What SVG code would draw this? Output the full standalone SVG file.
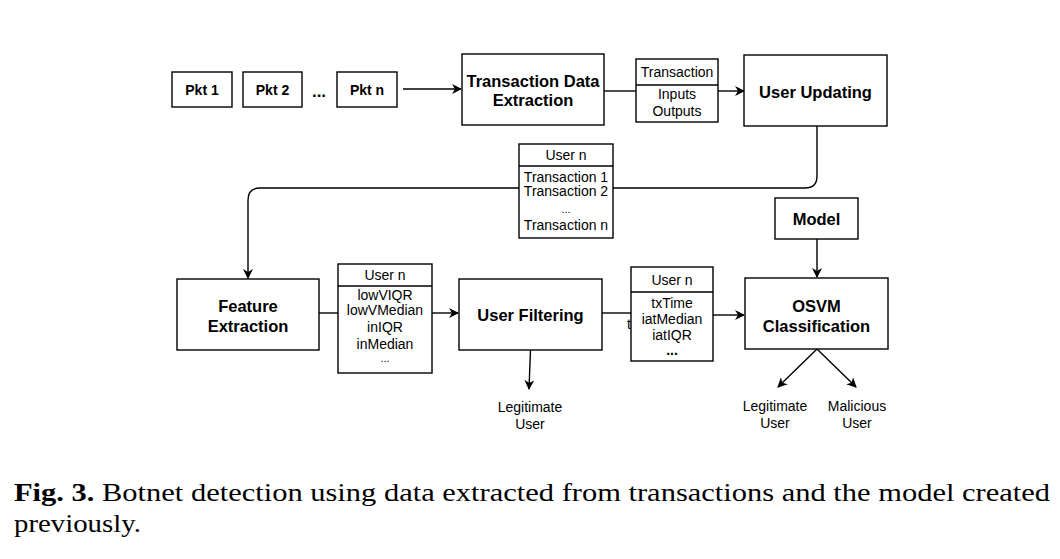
<svg xmlns="http://www.w3.org/2000/svg" width="1060" height="559" viewBox="0 0 1060 559">
<defs>
<marker id="ah" viewBox="0 0 10 10" refX="9" refY="5" markerWidth="10" markerHeight="10" markerUnits="userSpaceOnUse" orient="auto">
<path d="M0,0 L10,5 L0,10 L3,5 Z" fill="#000"/>
</marker>
<style>
.b{fill:#fff;stroke:#000;stroke-width:1.4}
.c{fill:none;stroke:#000;stroke-width:1.4}
.t{font-family:"Liberation Sans",Arial,sans-serif;text-anchor:middle;fill:#000}
.bold{font-weight:bold;font-size:16.5px}
.pk{font-weight:bold;font-size:14px}
.n{font-size:14px}
.cap{font-family:"Liberation Serif","Times New Roman",serif;font-size:25px;fill:#000}
</style>
</defs>
<rect width="1060" height="559" fill="#fff"/>
<g id="connectors">
<path class="c" d="M403,89 H461" marker-end="url(#ah)"/>
<path class="c" d="M604,91 H636"/>
<path class="c" d="M718,91 H744" marker-end="url(#ah)"/>
<path class="c" d="M817,126 V176 Q817,188 805,188 H613"/>
<path class="c" d="M519,188 H260 Q248,188 248,200 V278" marker-end="url(#ah)"/>
<path class="c" d="M319,313 H338"/>
<path class="c" d="M432,313 H458" marker-end="url(#ah)"/>
<path class="c" d="M602,313 H631"/>
<path class="c" d="M530.5,350 L529,389" marker-end="url(#ah)"/>
<path class="c" d="M713,315 H744" marker-end="url(#ah)"/>
<path class="c" d="M817,239 V277" marker-end="url(#ah)"/>
<path class="c" d="M817,349 L778,387" marker-end="url(#ah)"/>
<path class="c" d="M817,349 L856,387" marker-end="url(#ah)"/>
</g>
<g id="pkt1"><rect class="b" x="172" y="72" width="60" height="35"/><text class="t pk" x="202" y="95">Pkt 1</text></g>
<g id="pkt2"><rect class="b" x="243" y="72" width="59" height="35"/><text class="t pk" x="272.5" y="95">Pkt 2</text></g>
<g id="dots"><text class="t" font-weight="bold" font-size="17" x="319" y="97">...</text></g>
<g id="pktn"><rect class="b" x="337" y="72" width="60" height="35"/><text class="t pk" x="367" y="95">Pkt n</text></g>
<g id="tde"><rect class="b" x="462" y="54" width="142" height="71"/><text class="t bold" x="533" y="87">Transaction Data</text><text class="t bold" x="533" y="106">Extraction</text></g>
<g id="transaction"><rect class="b" x="636" y="59" width="82" height="63"/><line class="c" x1="636" y1="85" x2="718" y2="85"/><text class="t n" x="677" y="77">Transaction</text><text class="t n" x="677" y="99">Inputs</text><text class="t n" x="677" y="116">Outputs</text></g>
<g id="userupdating"><rect class="b" x="744" y="55" width="143" height="71"/><text class="t bold" x="815.5" y="98">User Updating</text></g>
<g id="usern1"><rect class="b" x="519" y="144" width="94" height="94"/><line class="c" x1="519" y1="166" x2="613" y2="166"/><text class="t n" x="566" y="160">User n</text><text class="t n" x="566" y="182">Transaction 1</text><text class="t n" x="566" y="196">Transaction 2</text><text class="t" font-size="11" x="566" y="213">...</text><text class="t n" x="566" y="230">Transaction n</text></g>
<g id="feature"><rect class="b" x="177" y="279" width="142" height="71"/><text class="t bold" x="248" y="312">Feature</text><text class="t bold" x="248" y="332">Extraction</text></g>
<g id="usern2"><rect class="b" x="338" y="264" width="94" height="109"/><line class="c" x1="338" y1="286" x2="432" y2="286"/><text class="t n" x="385" y="280">User n</text><text class="t n" x="385" y="300">lowVIQR</text><text class="t n" x="385" y="315">lowVMedian</text><text class="t n" x="385" y="332">inIQR</text><text class="t n" x="385" y="349">inMedian</text><text class="t" font-size="11" x="385" y="362">...</text></g>
<g id="userfiltering"><rect class="b" x="459" y="279" width="143" height="71"/><text class="t bold" x="530.5" y="321">User Filtering</text></g>
<g id="legit1"><text class="t n" x="530" y="412">Legitimate</text><text class="t n" x="530" y="429">User</text></g>
<g id="stray"><text class="t n" x="629" y="329">t</text></g>
<g id="usern3"><rect class="b" x="631" y="267" width="82" height="94"/><line class="c" x1="631" y1="292" x2="713" y2="292"/><text class="t n" x="672" y="285">User n</text><text class="t n" x="672" y="308">txTime</text><text class="t n" x="672" y="324">iatMedian</text><text class="t n" x="672" y="340">iatIQR</text><text class="t pk" x="672" y="355">...</text></g>
<g id="model"><rect class="b" x="775" y="198" width="83" height="41"/><text class="t bold" x="816.5" y="225">Model</text></g>
<g id="osvm"><rect class="b" x="745" y="278" width="143" height="71"/><text class="t bold" x="816.5" y="312">OSVM</text><text class="t bold" x="816.5" y="332">Classification</text></g>
<g id="legit2"><text class="t n" x="775" y="411">Legitimate</text><text class="t n" x="775" y="428">User</text></g>
<g id="malicious"><text class="t n" x="857" y="411">Malicious</text><text class="t n" x="857" y="428">User</text></g>
<g id="caption">
<text class="cap" x="14" y="501" textLength="1036" lengthAdjust="spacingAndGlyphs"><tspan font-weight="bold">Fig. 3.</tspan> Botnet detection using data extracted from transactions and the model created</text>
<text class="cap" x="14" y="532" textLength="127" lengthAdjust="spacingAndGlyphs">previously.</text>
</g>
</svg>
